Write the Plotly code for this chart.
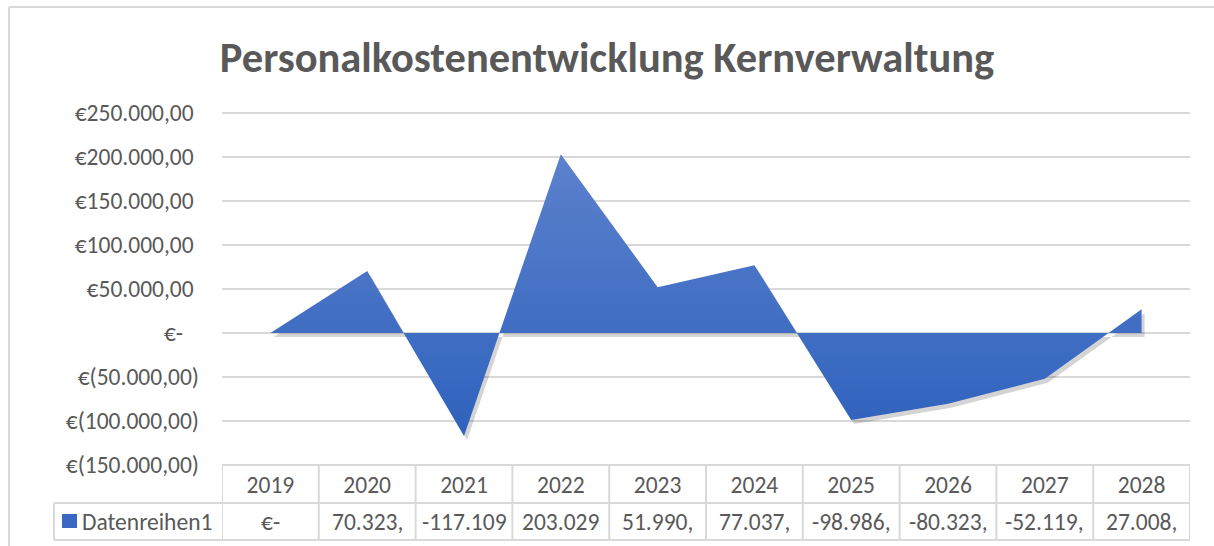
import plotly.graph_objects as go

# data
years = ["2019", "2020", "2021", "2022", "2023", "2024", "2025", "2026", "2027", "2028"]
kosten = [0, 70323, -117109, 203029, 51990, 77037, -98986, -80323, -52119, 27008]
# cell texts as they appear (cut off) in the Excel data table
table_labels = ["€-", "70.323,", "-117.109", "203.029", "51.990,", "77.037,",
                "-98.986,", "-80.323,", "-52.119,", "27.008,"]
series_name = "Datenreihen1"
y_ticks = [-150000, -100000, -50000, 0, 50000, 100000, 150000, 200000, 250000]

W, H = 1214, 546
ML, MR, MT, MB = 222, 24, 113, 81
PW, PH = W - ML - MR, H - MT - MB
FONT = "Calibri, Carlito, Lato, sans-serif"
FS = 23.5
GREY = "#595959"
LINE = "#d9d9d9"


def px_x(px):
    return (px - ML) / PW


def px_y(py):
    return (H - MB - py) / PH


def euro(v):
    # Excel accounting format, German separators
    nb = "\u00a0"
    if v == 0:
        return "€-" + nb * 3
    s = f"{abs(v):,.2f}".replace(",", "X").replace(".", ",").replace("X", ".")
    return f"€({s})" if v < 0 else f"€{s}" + nb


y_range = [min(y_ticks), max(y_ticks)]
x_range = [-0.5, len(years) - 0.5]

# soft shadow: same series on the base axes, shifted a few pixels;
# the visible series + grid sit on the overlaying axes x2/y2
sx, sy = 3, 4
cat_px = PW / len(years)
unit_px = (y_range[1] - y_range[0]) / PH

fig = go.Figure()
fig.add_trace(go.Scatter(
    x=list(range(len(years))), y=kosten,
    mode="lines", line=dict(width=0), fill="tozeroy",
    fillcolor="rgba(0,0,0,0.17)", hoverinfo="skip", showlegend=False))
fig.add_trace(go.Scatter(
    x=list(range(len(years))), y=kosten, name=series_name, xaxis="x2", yaxis="y2",
    mode="lines", line=dict(width=0), fill="tozeroy",
    fillgradient=dict(type="vertical", colorscale=[[0, "#2f62bd"], [1, "#5c81cd"]]),
    showlegend=False))

shapes = []
# chart border (left and top)
shapes.append(dict(type="line", xref="paper", yref="paper", x0=px_x(9), x1=px_x(W + 5),
                   y0=px_y(7), y1=px_y(7), line=dict(color=LINE, width=2)))
shapes.append(dict(type="line", xref="paper", yref="paper", x0=px_x(9), x1=px_x(9),
                   y0=px_y(7), y1=px_y(H + 5), line=dict(color=LINE, width=2)))
# outer gridlines at the range edges (top gridline, table top)
for yy in (0, 1):
    shapes.append(dict(type="line", xref="paper", yref="paper", x0=0, x1=1,
                       y0=yy, y1=yy, layer="below", line=dict(color=LINE, width=2)))
# data table grid
row1, row2 = px_y(503), px_y(540)
for k in range(len(years) + 1):
    shapes.append(dict(type="line", xref="x2", yref="paper", x0=k - 0.5, x1=k - 0.5,
                       y0=0, y1=row2, line=dict(color=LINE, width=2)))
for yy in (row1, row2):
    shapes.append(dict(type="line", xref="paper", yref="paper", x0=px_x(54), x1=1,
                       y0=yy, y1=yy, line=dict(color=LINE, width=2)))
shapes.append(dict(type="line", xref="paper", yref="paper", x0=px_x(54), x1=px_x(54),
                   y0=row1, y1=row2, line=dict(color=LINE, width=2)))
# legend key
shapes.append(dict(type="rect", xref="paper", yref="paper", x0=px_x(62), x1=px_x(77),
                   y0=px_y(528), y1=px_y(514), line=dict(width=0), fillcolor="#3a67c2"))

annotations = [dict(text=series_name, xref="paper", yref="paper", x=px_x(80),
                    y=(row1 + row2) / 2, xanchor="left", yanchor="middle",
                    showarrow=False, font=dict(family=FONT, size=FS, color=GREY))]
for i, lab in enumerate(table_labels):
    annotations.append(dict(text=lab, xref="x2", yref="paper", x=i, y=(row1 + row2) / 2,
                            xanchor="center", yanchor="middle", showarrow=False,
                            font=dict(family=FONT, size=FS, color=GREY)))

fig.update_layout(
    width=W, height=H, margin=dict(l=ML, r=MR, t=MT, b=MB),
    paper_bgcolor="white", plot_bgcolor="white",
    title=dict(text="<b>Personalkostenentwicklung Kernverwaltung</b>", x=0.5, xanchor="center",
               y=1 - 57 / H, yanchor="middle", font=dict(family=FONT, size=42.5, color=GREY)),
    xaxis=dict(range=[x_range[0] - sx / cat_px, x_range[1] - sx / cat_px], visible=False),
    yaxis=dict(range=[y_range[0] + sy * unit_px, y_range[1] + sy * unit_px], visible=False),
    xaxis2=dict(overlaying="x", range=x_range, tickvals=list(range(len(years))), ticktext=years,
                showgrid=False, zeroline=False, showline=False, ticks="", side="bottom",
                ticklabelstandoff=3, tickfont=dict(family=FONT, size=FS, color=GREY)),
    yaxis2=dict(overlaying="y", range=y_range, tickvals=y_ticks,
                ticktext=[euro(v) for v in y_ticks], side="left",
                showgrid=True, gridcolor=LINE, gridwidth=2, zeroline=False, showline=False,
                ticks="", ticklabelstandoff=22, tickfont=dict(family=FONT, size=FS, color=GREY)),
    shapes=shapes, annotations=annotations,
)

fig.write_html("out.html", config={"displayModeBar": False},
               post_script="document.body.style.margin='0';")
